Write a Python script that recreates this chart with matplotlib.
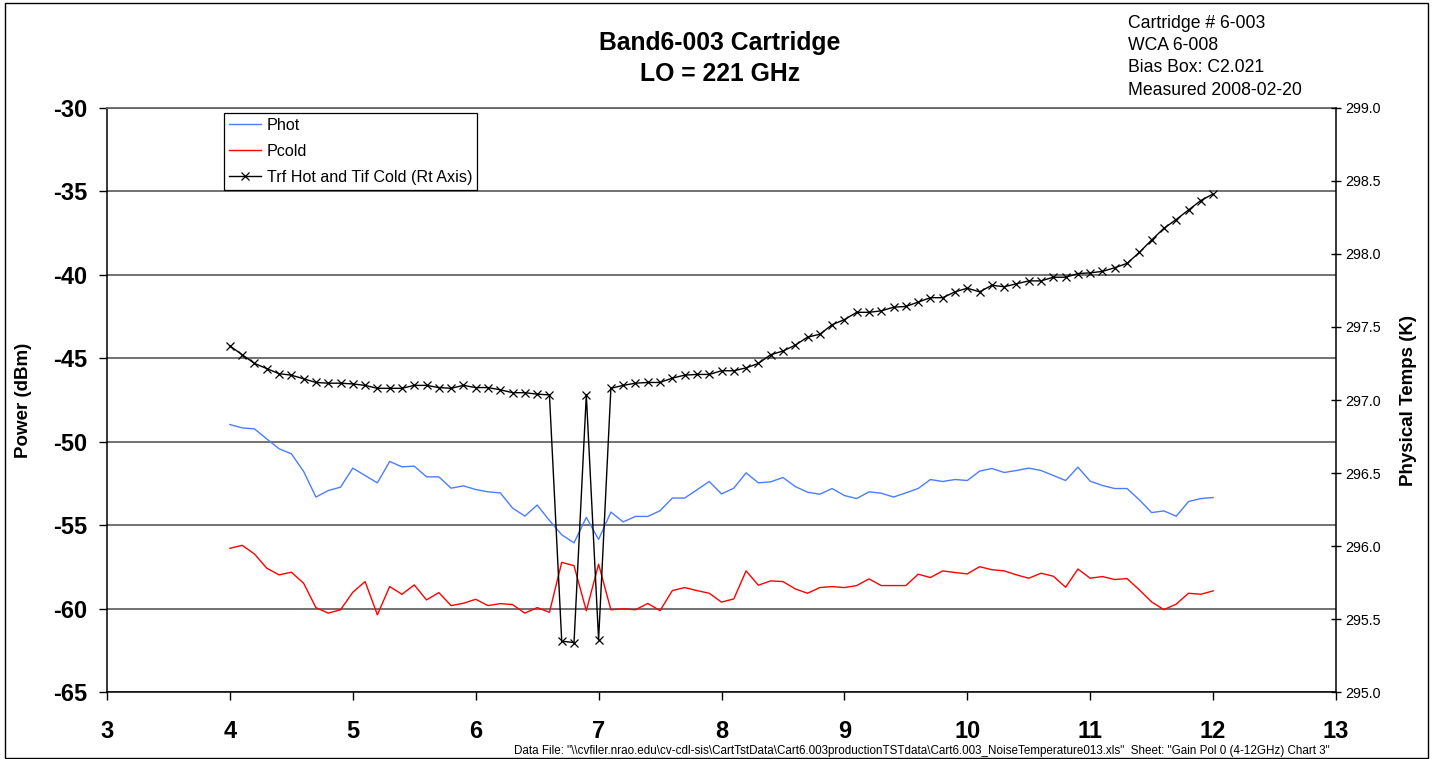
import matplotlib
matplotlib.use("Agg")
import matplotlib.pyplot as plt
from matplotlib.patches import Rectangle
from matplotlib import font_manager

# ---------------- data ----------------
freq_ghz = [4.0, 4.1, 4.2, 4.3, 4.4, 4.5, 4.6, 4.7, 4.8, 4.9,
            5.0, 5.1, 5.2, 5.3, 5.4, 5.5, 5.6, 5.7, 5.8, 5.9,
            6.0, 6.1, 6.2, 6.3, 6.4, 6.5, 6.6, 6.7, 6.8, 6.9,
            7.0, 7.1, 7.2, 7.3, 7.4, 7.5, 7.6, 7.7, 7.8, 7.9,
            8.0, 8.1, 8.2, 8.3, 8.4, 8.5, 8.6, 8.7, 8.8, 8.9,
            9.0, 9.1, 9.2, 9.3, 9.4, 9.5, 9.6, 9.7, 9.8, 9.9,
            10.0, 10.1, 10.2, 10.3, 10.4, 10.5, 10.6, 10.7, 10.8, 10.9,
            11.0, 11.1, 11.2, 11.3, 11.4, 11.5, 11.6, 11.7, 11.8, 11.9, 12.0]

phot = [-48.97, -49.17, -49.23, -49.83, -50.42, -50.72, -51.78, -53.31, -52.92, -52.72,
        -51.58, -52.02, -52.46, -51.18, -51.50, -51.46, -52.10, -52.10, -52.78, -52.64,
        -52.86, -53.00, -53.06, -53.97, -54.45, -53.79, -54.71, -55.57, -56.05, -54.53,
        -55.85, -54.21, -54.80, -54.47, -54.47, -54.13, -53.37, -53.37, -52.88, -52.38,
        -53.12, -52.78, -51.86, -52.46, -52.40, -52.14, -52.68, -53.02, -53.14, -52.80,
        -53.22, -53.40, -53.00, -53.08, -53.31, -53.06, -52.80, -52.26, -52.38, -52.26,
        -52.32, -51.76, -51.60, -51.84, -51.72, -51.58, -51.72, -52.02, -52.32, -51.52,
        -52.36, -52.62, -52.80, -52.80, -53.48, -54.24, -54.14, -54.46, -53.58, -53.40, -53.34]

pcold = [-56.38, -56.20, -56.72, -57.57, -57.97, -57.81, -58.47, -59.93, -60.26, -60.06,
         -59.01, -58.37, -60.36, -58.67, -59.13, -58.57, -59.47, -59.03, -59.81, -59.67,
         -59.43, -59.81, -59.69, -59.75, -60.26, -59.93, -60.21, -57.22, -57.42, -60.12,
         -57.33, -60.06, -60.00, -60.06, -59.68, -60.11, -58.91, -58.73, -58.91, -59.07,
         -59.60, -59.41, -57.73, -58.59, -58.33, -58.37, -58.81, -59.07, -58.73, -58.67,
         -58.73, -58.61, -58.21, -58.61, -58.61, -58.61, -57.93, -58.13, -57.73, -57.83,
         -57.91, -57.48, -57.66, -57.73, -57.97, -58.17, -57.87, -58.05, -58.71, -57.62,
         -58.17, -58.07, -58.25, -58.19, -58.87, -59.59, -60.05, -59.72, -59.07, -59.13, -58.93]

temps = [297.37, 297.31, 297.25, 297.215, 297.18, 297.17, 297.145, 297.12, 297.115, 297.115,
         297.11, 297.10, 297.08, 297.08, 297.08, 297.10, 297.10, 297.085, 297.08, 297.10,
         297.085, 297.085, 297.07, 297.05, 297.05, 297.04, 297.035, 295.35, 295.34, 297.035,
         295.36, 297.08, 297.10, 297.115, 297.12, 297.12, 297.15, 297.17, 297.175, 297.175,
         297.20, 297.20, 297.22, 297.25, 297.31, 297.335, 297.375, 297.43, 297.45, 297.515,
         297.55, 297.60, 297.60, 297.61, 297.635, 297.64, 297.67, 297.70, 297.70, 297.74,
         297.765, 297.74, 297.785, 297.775, 297.795, 297.815, 297.815, 297.84, 297.84, 297.865,
         297.87, 297.88, 297.905, 297.935, 298.01, 298.095, 298.175, 298.235, 298.30, 298.365, 298.41]

x_ticks = [3, 4, 5, 6, 7, 8, 9, 10, 11, 12, 13]
left_ticks = [-65, -60, -55, -50, -45, -40, -35, -30]
right_ticks = [295.0, 295.5, 296.0, 296.5, 297.0, 297.5, 298.0, 298.5, 299.0]

title_lines = ["Band6-003 Cartridge", "LO = 221 GHz"]
info_lines = ["Cartridge # 6-003", "WCA 6-008", "Bias Box: C2.021", "Measured 2008-02-20"]
data_file_text = ('Data File: "\\\\cvfiler.nrao.edu\\cv-cdl-sis\\CartTstData\\Cart6.003productionTSTdata'
                  '\\Cart6.003_NoiseTemperature013.xls"  Sheet: "Gain Pol 0 (4-12GHz) Chart 3"')

# ---------------- style ----------------
plt.rcParams['font.family'] = ['Liberation Sans', 'DejaVu Sans']
names = {f.name for f in font_manager.fontManager.ttflist}
narrow = 'Liberation Sans Narrow' if 'Liberation Sans Narrow' in names else 'Liberation Sans'

W, H = 1437, 759
fig = plt.figure(figsize=(W / 100, H / 100), dpi=100)
fig.patch.set_facecolor('white')

L, R, T, B = 107, 1336, 107.7, 692.3
ax = fig.add_axes([L / W, 1 - B / H, (R - L) / W, (B - T) / H])
ax2 = ax.twinx()

ax.set_xlim(3, 13)
ax.set_ylim(-65, -30)
ax2.set_ylim(295, 299)

grid_c = '#666666'
ax.set_yticks(left_ticks)
ax.set_xticks(x_ticks)
ax.yaxis.grid(True, color=grid_c, lw=1.3)
ax.set_axisbelow(True)

ax.tick_params(axis='x', direction='out', length=6, width=1, labelsize=17, pad=14)
ax.tick_params(axis='y', direction='out', length=6, width=1, labelsize=17, pad=8)
for lab in ax.get_xticklabels() + ax.get_yticklabels():
    lab.set_fontweight('bold')
ax.set_yticklabels([f"{v:d}" for v in left_ticks])

ax2.set_yticks(right_ticks)
ax2.set_yticklabels([f"{v:.1f}" for v in right_ticks])
ax2.tick_params(axis='y', direction='inout', length=7.5, width=1, labelsize=10.3, pad=3)

for s in ['left', 'bottom']:
    ax.spines[s].set_color('black')
    ax.spines[s].set_linewidth(1.1)
ax.spines['top'].set_color(grid_c)
ax.spines['top'].set_linewidth(1.3)
ax.spines['right'].set_visible(False)
ax2.spines['left'].set_visible(False)
ax2.spines['bottom'].set_visible(False)
ax2.spines['top'].set_visible(False)
ax2.spines['right'].set_color('black')
ax2.spines['right'].set_linewidth(1.1)

l1, = ax.plot(freq_ghz, phot, color='#4a7dff', lw=1.0, label='Phot')
l2, = ax.plot(freq_ghz, pcold, color='#ff0000', lw=1.0, label='Pcold')
l3, = ax2.plot(freq_ghz, temps, color='black', lw=1.0, marker='x', markersize=6,
               markeredgewidth=0.9, label='Trf Hot and Tif Cold (Rt Axis)')

ax.set_ylabel('Power (dBm)', fontsize=13.5, fontweight='bold')
ax.yaxis.set_label_coords((32 - L) / (R - L), 0.5)
ax2.set_ylabel('Physical Temps (K)', fontsize=13.5, fontweight='bold')
ax2.yaxis.set_label_coords((1400 - L) / (R - L), 0.5)

leg = ax2.legend(handles=[l1, l2, l3], loc='upper left',
                 bbox_to_anchor=(224 / W, 1 - 112.7 / H), bbox_transform=fig.transFigure,
                 borderaxespad=0, fontsize=11.6, frameon=True, fancybox=False,
                 framealpha=1, edgecolor='black', handlelength=2.0, handletextpad=0.35,
                 labelspacing=0.7, borderpad=0.3, numpoints=1)
leg.get_frame().set_linewidth(0.9)

# titles and annotations
fig.text(720 / W, 1 - 43 / H, title_lines[0], ha='center', va='center',
         fontsize=17.8, fontweight='bold')
fig.text(720 / W, 1 - 74 / H, title_lines[1], ha='center', va='center',
         fontsize=17.8, fontweight='bold')
for i, line in enumerate(info_lines):
    fig.text(1128 / W, 1 - (23 + 22.5 * i) / H, line, ha='left', va='center', fontsize=12.7)

t = fig.text(1330 / W, 1 - 751 / H, data_file_text, ha='right', va='center',
             fontsize=8, family=narrow)
renderer = fig.canvas.get_renderer()
wpx = t.get_window_extent(renderer=renderer).width
t.set_fontsize(8 * 822 / wpx)

fig.patches.append(Rectangle((5 / W, 1 / H), (1428 - 5) / W, (756 - 1) / H,
                             transform=fig.transFigure, fill=False, ec='black', lw=1.0))

fig.savefig('out.png', dpi=100)
